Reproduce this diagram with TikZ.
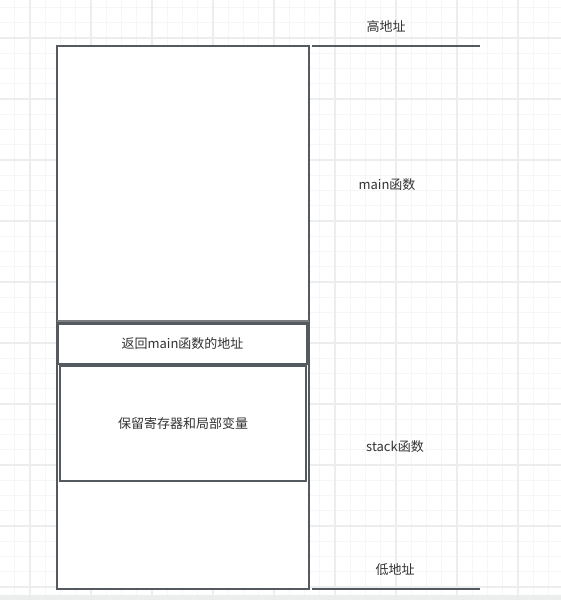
\documentclass[tikz,border=0pt]{standalone}
\usepackage{fontspec}
\setmainfont{Noto Sans CJK SC}
\definecolor{gridminor}{HTML}{F5F6F6}
\definecolor{gridmajor}{HTML}{ECEEEE}
\definecolor{frameline}{HTML}{545A60}
\definecolor{divline}{HTML}{7A7C7E}
\definecolor{labeltext}{HTML}{333333}
\tikzset{
	label/.style={text=labeltext, inner sep=0pt, font=\fontsize{13}{16}\selectfont},
	frame/.style={draw=frameline, line width=2pt},
}
\begin{document}
\begin{tikzpicture}[x=1pt,y=-1pt]
		\useasboundingbox (0,0) rectangle (561,600);
		\fill[white] (0,0) rectangle (561,600);

		\foreach \k in {0, ..., 36} {\draw[gridminor,line width=1pt] (14.75+15.25*\k,0) -- (14.75+15.25*\k,600);}
		\foreach \k in {0, ..., 38} {\draw[gridminor,line width=1pt] (0,7.5+15.25*\k) -- (561,7.5+15.25*\k);}
		\foreach \k in {0, ..., 8} {\draw[gridmajor,line width=1.5pt] (30+61*\k,0) -- (30+61*\k,600);}
		\foreach \k in {0, ..., 9} {\draw[gridmajor,line width=1.5pt] (0,38+61*\k) -- (561,38+61*\k);}
		\fill[gridmajor] (0,595) rectangle (561,600);

		\filldraw[frame,fill=white] (57,46) rectangle (309,589);
		\draw[divline,line width=2pt] (57,321) -- (309,321);
		\draw[frame,line width=2.5pt] (58,323.5) rectangle (307,364) node[midway,label] (retaddr) {返回main函数的地址};
		\draw[frame,line width=1.5pt] (60,366) rectangle (306,481) node[midway,label] (saved) {保留寄存器和局部变量};

		\draw[frame] (312,46) -- (480,46);
		\draw[frame] (312,589) -- (480,589);

		\node[label] (high) at (386,27) {高地址};
		\node[label] (mainfn) at (387,185) {main函数};
		\node[label] (stackfn) at (395,447) {stack函数};
		\node[label] (low) at (395,570) {低地址};
    \end{tikzpicture}
\end{document}
